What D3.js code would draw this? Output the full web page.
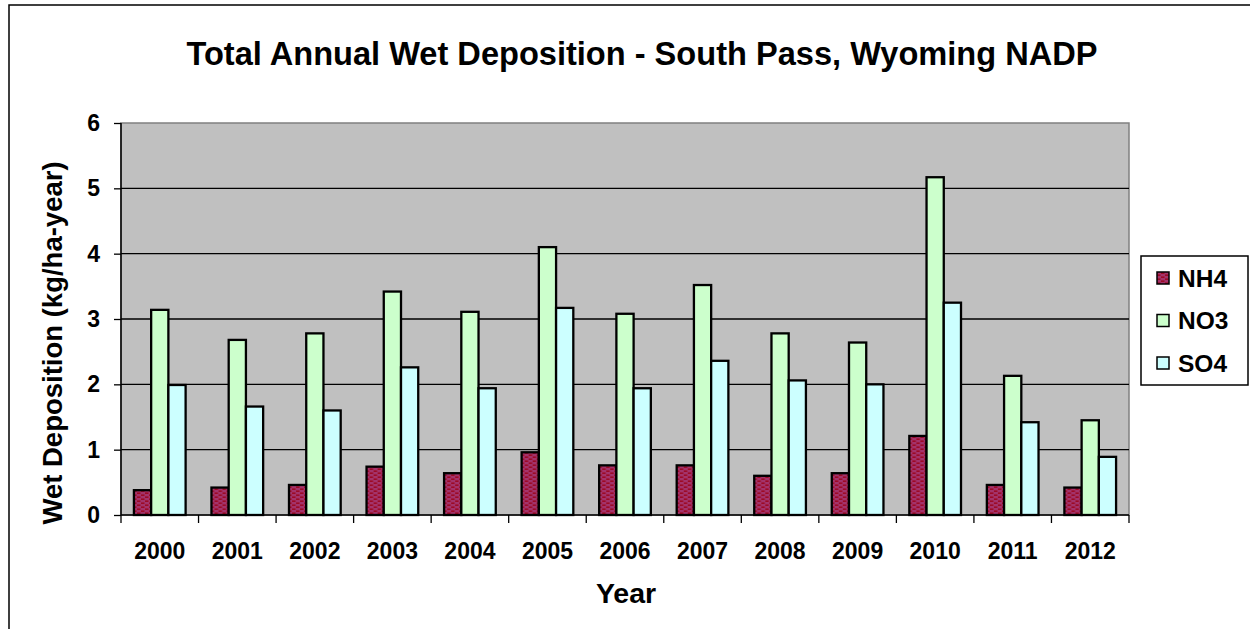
<!DOCTYPE html>
<html>
<head>
<meta charset="utf-8">
<script src="https://cdn.jsdelivr.net/npm/d3@7"></script>
<style>
  body { margin: 0; background: #fff; }
  text { font-family: "Liberation Sans", Arial, sans-serif; font-weight: bold; fill: #000; }
</style>
</head>
<body>
<svg id="chart" width="1250" height="629"></svg>
<script>
// data
var years = ["2000","2001","2002","2003","2004","2005","2006","2007","2008","2009","2010","2011","2012"];
var nh4 = [0.38, 0.42, 0.46, 0.74, 0.64, 0.96, 0.76, 0.76, 0.60, 0.64, 1.21, 0.46, 0.42];
var no3 = [3.14, 2.68, 2.78, 3.42, 3.11, 4.10, 3.08, 3.52, 2.78, 2.64, 5.17, 2.13, 1.45];
var so4 = [1.99, 1.66, 1.60, 2.26, 1.94, 3.17, 1.94, 2.36, 2.06, 2.00, 3.25, 1.42, 0.89];
var seriesNames = ["NH4", "NO3", "SO4"];
var yTicks = [0, 1, 2, 3, 4, 5, 6];

var fills = { "NH4": "url(#brick)", "NO3": "#ccffcc", "SO4": "#ccffff" };

var svg = d3.select("#chart"),
    plot = {left: 121, right: 1129, top: 123, bottom: 515};

// outer chart frame (runs off the right and bottom of the picture)
svg.append("rect")
    .attr("x", 9).attr("y", 5)
    .attr("width", 1400).attr("height", 800)
    .attr("fill", "#fff")
    .attr("stroke", "#000")
    .attr("stroke-width", 1.5);

// brick pattern for NH4
var pat = svg.append("defs").append("pattern")
    .attr("id", "brick")
    .attr("patternUnits", "userSpaceOnUse")
    .attr("width", 8).attr("height", 4);
pat.append("rect").attr("width", 8).attr("height", 4).attr("fill", "#a3336b");
pat.append("rect").attr("x", 0).attr("y", 0.5).attr("width", 3.5).attr("height", 1.3).attr("fill", "#9c0014");
pat.append("rect").attr("x", 4).attr("y", 2.5).attr("width", 3.5).attr("height", 1.3).attr("fill", "#9c0014");

var x0 = d3.scaleBand()
    .domain(years)
    .range([plot.left, plot.right]);

// excel gap width of 150%
var bw = x0.bandwidth();
var x1 = d3.scaleBand()
    .domain(seriesNames)
    .range([bw * 0.75 / 4.5, bw * 3.75 / 4.5]);

var y = d3.scaleLinear()
    .domain([0, 6])
    .range([plot.bottom, plot.top]);

// plot background
svg.append("rect")
    .attr("x", plot.left).attr("y", plot.top)
    .attr("width", plot.right - plot.left)
    .attr("height", plot.bottom - plot.top)
    .attr("fill", "#c0c0c0")
    .attr("stroke", "#808080")
    .attr("stroke-width", 1.5);

// gridlines
svg.append("g")
    .selectAll("line")
    .data(yTicks.slice(1, 6))
    .enter().append("line")
      .attr("x1", plot.left).attr("x2", plot.right)
      .attr("y1", function(d) { return y(d); })
      .attr("y2", function(d) { return y(d); })
      .attr("stroke", "#000")
      .attr("stroke-width", 1.3);

// bars
var rows = years.map(function(yr, i) {
  return { year: yr, NH4: nh4[i], NO3: no3[i], SO4: so4[i] };
});

svg.append("g")
    .selectAll("g")
    .data(rows)
    .enter().append("g")
      .attr("transform", function(d) { return "translate(" + x0(d.year) + ",0)"; })
    .selectAll("rect")
    .data(function(d) { return seriesNames.map(function(k) { return {key: k, value: d[k]}; }); })
    .enter().append("rect")
      .attr("x", function(d) { return x1(d.key); })
      .attr("y", function(d) { return y(d.value); })
      .attr("width", x1.bandwidth())
      .attr("height", function(d) { return y(0) - y(d.value); })
      .attr("fill", function(d) { return fills[d.key]; })
      .attr("stroke", "#000")
      .attr("stroke-width", 2.3);

// y axis
var yAxis = svg.append("g")
    .attr("transform", "translate(" + plot.left + ",0)")
    .call(d3.axisLeft(y).tickValues(yTicks).tickFormat(d3.format("d")).tickSize(7).tickPadding(14));
yAxis.select(".domain").attr("stroke", "#000").attr("stroke-width", 1.5).attr("d", "M0," + plot.top + "V" + plot.bottom);
yAxis.selectAll(".tick line").attr("stroke", "#000").attr("stroke-width", 1.3);
yAxis.selectAll(".tick text")
    .style("font-size", "23px")
    .style("font-family", "'Liberation Sans', Arial, sans-serif")
    .style("font-weight", "bold")
    .attr("fill", "#000");

// x axis, ticks at category edges
var xAxis = svg.append("g")
    .attr("transform", "translate(0," + plot.bottom + ")")
    .call(d3.axisBottom(x0).tickSize(0).tickPadding(28));
xAxis.select(".domain").attr("stroke", "#000").attr("stroke-width", 1.5).attr("d", "M" + plot.left + ",0H" + plot.right);
xAxis.selectAll(".tick text")
    .style("font-size", "23px")
    .style("font-family", "'Liberation Sans', Arial, sans-serif")
    .style("font-weight", "bold")
    .attr("fill", "#000");

var edges = years.map(function(yr) { return x0(yr); }).concat([plot.right]);
xAxis.selectAll(".edge")
    .data(edges)
    .enter().append("line")
      .attr("class", "edge")
      .attr("x1", function(d) { return d; }).attr("x2", function(d) { return d; })
      .attr("y1", 0).attr("y2", 8)
      .attr("stroke", "#000")
      .attr("stroke-width", 1.3);

// titles
svg.append("text")
    .attr("x", 642).attr("y", 65)
    .attr("text-anchor", "middle")
    .style("font-size", "32.6px")
    .text("Total Annual Wet Deposition - South Pass, Wyoming NADP");

svg.append("text")
    .attr("transform", "translate(62,343) rotate(-90)")
    .attr("text-anchor", "middle")
    .style("font-size", "27.5px")
    .text("Wet Deposition (kg/ha-year)");

svg.append("text")
    .attr("x", 626).attr("y", 603)
    .attr("text-anchor", "middle")
    .style("font-size", "28.5px")
    .text("Year");

// legend
var legend = svg.append("g");
legend.append("rect")
    .attr("x", 1141).attr("y", 256)
    .attr("width", 107).attr("height", 129)
    .attr("fill", "#fff")
    .attr("stroke", "#000")
    .attr("stroke-width", 1.5);

var legendY = d3.scalePoint().domain(seriesNames).range([278, 363]);
var item = legend.selectAll(".item")
    .data(seriesNames)
    .enter().append("g")
      .attr("class", "item")
      .attr("transform", function(d) { return "translate(1157," + legendY(d) + ")"; });
item.append("rect")
    .attr("x", 0).attr("y", -6)
    .attr("width", 12).attr("height", 12)
    .attr("fill", function(d) { return fills[d]; })
    .attr("stroke", "#000")
    .attr("stroke-width", 1.5);
item.append("text")
    .attr("x", 21).attr("y", 0)
    .attr("dy", "0.36em")
    .style("font-size", "24.5px")
    .text(function(d) { return d; });
</script>
</body>
</html>
